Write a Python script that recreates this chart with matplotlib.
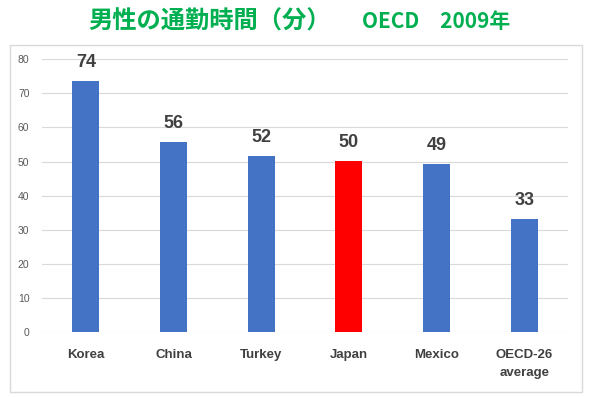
import matplotlib
matplotlib.use("Agg")
import matplotlib.pyplot as plt
from matplotlib.patches import Rectangle

# data
countries = ["Korea", "China", "Turkey", "Japan", "Mexico", "OECD-26\naverage"]
minutes = [73.6, 55.7, 51.6, 50.2, 49.3, 33.2]
highlight = "Japan"
yticks = [0, 10, 20, 30, 40, 50, 60, 70, 80]
title_jp = "男性の通勤時間（分）"
title_en = "OECD　2009年"

plt.rcParams['font.family'] = ['Liberation Sans', 'DejaVu Sans']

fig = plt.figure(figsize=(5.89, 3.97), dpi=100)
ax = fig.add_axes([0.0713, 0.1637, 0.893, 0.687])

# chart border
fig.patches.append(Rectangle((10 / 589, 5 / 397), 572 / 589, 347 / 397,
                             transform=fig.transFigure, fill=False,
                             edgecolor="#D9D9D9", linewidth=1))

colors = ["#FF0000" if c == highlight else "#4472C4" for c in countries]
x = range(len(countries))
bars = ax.bar(x, minutes, width=0.31, color=colors, zorder=3)

for b, v in zip(bars, minutes):
    ax.text(b.get_x() + b.get_width() / 2, v + 3.0, f"{round(v)}",
            ha="center", va="bottom", fontsize=13, fontweight="bold",
            color="#404040")

ax.set_ylim(0, 80)
ax.set_xlim(-0.5, len(countries) - 0.5)
ax.set_yticks(yticks)
ax.set_xticks(list(x))
ax.set_xticklabels(countries, fontsize=9.5, fontweight="bold", color="#404040",
                   linespacing=1.75)
ax.tick_params(axis="y", labelsize=7.5, colors="#595959", length=0, pad=9)
ax.tick_params(axis="x", length=0, pad=12)
ax.grid(axis="y", color="#D9D9D9", linewidth=0.8, zorder=0)
for s in ax.spines.values():
    s.set_visible(False)

title_kw = dict(va="center", fontweight="bold", color="#00B050",
                family=["Noto Sans CJK JP", "DejaVu Sans"])
fig.text(88 / 589, 0.945, title_jp, ha="left", fontsize=17.5, **title_kw)
fig.text(362 / 589, 0.945, title_en, ha="left", fontsize=15, **title_kw)

fig.savefig("out.png", dpi=100)
